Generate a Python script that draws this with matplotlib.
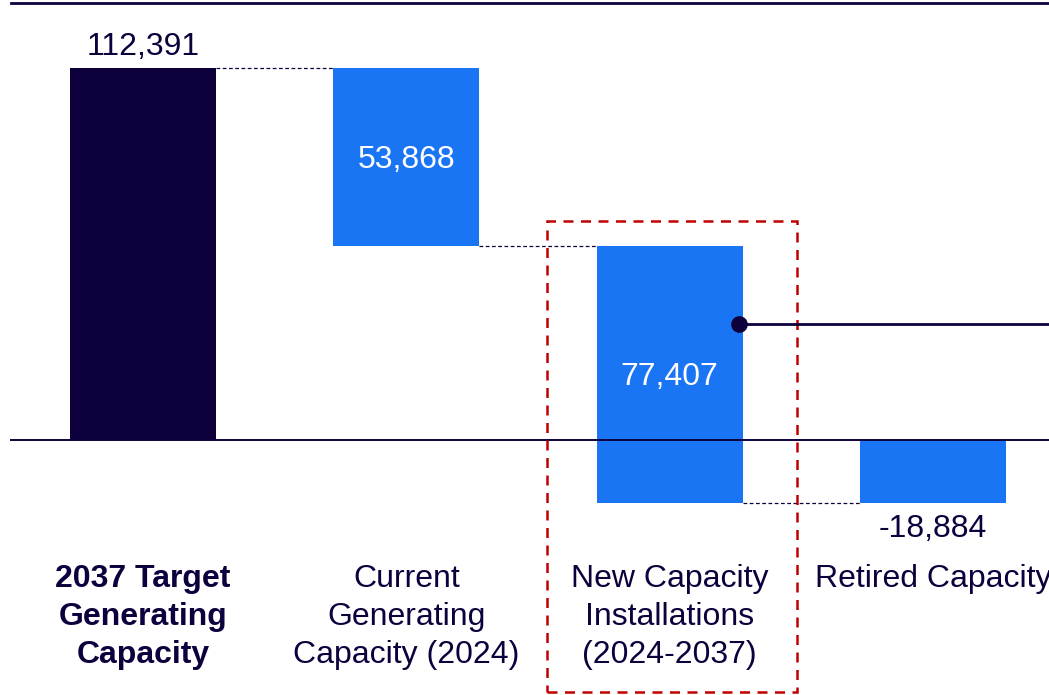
import matplotlib
matplotlib.use("Agg")
import matplotlib.pyplot as plt
from matplotlib.patches import Rectangle

plt.rcParams["font.family"] = ["Liberation Sans", "DejaVu Sans"]

# data
categories = ["2037 Target\nGenerating\nCapacity",
              "Current\nGenerating\nCapacity (2024)",
              "New Capacity\nInstallations\n(2024-2037)",
              "Retired Capacity"]
values = [112391, -53868, -77407, 18884]   # waterfall steps (total, then changes)
labels = ["112,391", "53,868", "77,407", "-18,884"]

NAVY = "#0e003c"
BLUE = "#1a75f5"
RED = "#c00000"

fig = plt.figure(figsize=(10.49, 6.95), dpi=100)
ax = fig.add_axes([0, 0, 1, 1])
ax.set_xlim(-0.543, 3.44)
ax.set_ylim(-77042, 132936)
ax.axis("off")

w = 0.554
# running totals
starts, ends = [], []
run = 0
for i, v in enumerate(values):
    s, e = (0, v) if i == 0 else (run, run + v)
    starts.append(s); ends.append(e)
    run = e

for i in range(len(values)):
    lo, hi = min(starts[i], ends[i]), max(starts[i], ends[i])
    ax.bar(i, hi - lo, bottom=lo, width=w, color=NAVY if i == 0 else BLUE, zorder=2)

# connectors
for i in range(len(values) - 1):
    ax.plot([i + w / 2, i + 1 - w / 2], [ends[i], ends[i]], color=NAVY, lw=0.9,
            ls=(0, (3, 2)), zorder=1)

# top rule and zero line
ax.plot([-0.5, 3.44], [132030, 132030], color=NAVY, lw=2, clip_on=False)
ax.plot([-0.5, 3.44], [0, 0], color=NAVY, lw=1.4, zorder=3)

# value labels
fs = 23
ax.annotate(labels[0], (0, ends[0]), xytext=(0, 4), textcoords="offset points",
            ha="center", va="bottom", fontsize=fs, color=NAVY)
ax.annotate(labels[1], (1, (starts[1] + ends[1]) / 2), xytext=(0, -2),
            textcoords="offset points", ha="center", va="center",
            fontsize=fs, color="white", zorder=4)
ax.annotate(labels[2], (2, (starts[2] + ends[2]) / 2), xytext=(0, -2),
            textcoords="offset points", ha="center", va="center",
            fontsize=fs, color="white", zorder=4)
ax.annotate(labels[3], (3, starts[3]), xytext=(0, -8), textcoords="offset points",
            ha="center", va="top", fontsize=fs, color=NAVY)

# category labels
for i, c in enumerate(categories):
    ax.text(i, -37400, c, ha="center", va="top", fontsize=fs, color=NAVY,
            linespacing=1.36, fontweight="bold" if i == 0 else "normal")

# highlight box + callout
ax.add_patch(Rectangle((1.533, -76136), 2.482 - 1.533, 66165 + 76136, fill=False,
                       ec=RED, lw=1.8, ls=(0, (4, 3)), clip_on=False, zorder=5))
ax.plot([2.262, 3.44], [35047, 35047], color=NAVY, lw=2, zorder=5)
ax.plot([2.262], [35047], "o", color=NAVY, ms=11, zorder=6)

fig.savefig("out.png", dpi=100)
